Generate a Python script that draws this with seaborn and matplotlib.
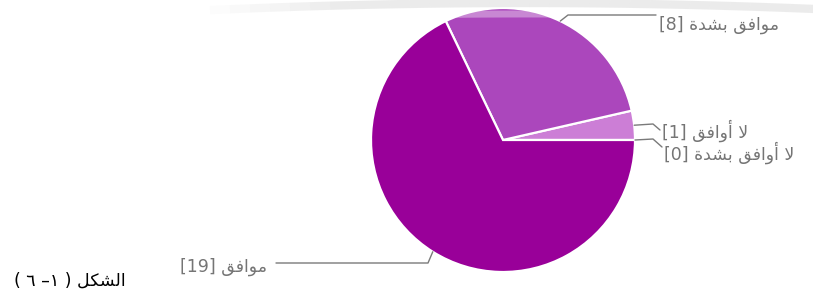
import numpy as np
import matplotlib
matplotlib.use("Agg")
import matplotlib.pyplot as plt
from matplotlib.patches import Arc
import seaborn as sns

# data
categories = ["لا أوافق بشدة", "لا أوافق", "موافق بشدة", "موافق"]
counts = [0, 1, 8, 19]
colors = ["#e1bee7", "#cc7ed6", "#ab47bc", "#990099"]
caption_word = "الشكل"
caption_num = "( ٦ –١ )"

sns.set_theme(style="white")
plt.rcParams['font.family'] = ['DejaVu Sans']

# matplotlib does no arabic shaping, so pick the joined letter forms by hand
FORMS = {
    'ا': ('\ufe8d', '\ufe8e', None, None),
    'أ': ('\ufe83', '\ufe84', None, None),
    'و': ('\ufeed', '\ufeee', None, None),
    'د': ('\ufea9', '\ufeaa', None, None),
    'ة': ('\ufe93', '\ufe94', None, None),
    'م': ('\ufee1', '\ufee2', '\ufee3', '\ufee4'),
    'ف': ('\ufed1', '\ufed2', '\ufed3', '\ufed4'),
    'ق': ('\ufed5', '\ufed6', '\ufed7', '\ufed8'),
    'ب': ('\ufe8f', '\ufe90', '\ufe91', '\ufe92'),
    'ش': ('\ufeb5', '\ufeb6', '\ufeb7', '\ufeb8'),
    'ل': ('\ufedd', '\ufede', '\ufedf', '\ufee0'),
    'ك': ('\ufed9', '\ufeda', '\ufedb', '\ufedc'),
}


def shape(txt):
    txt = txt.replace('لا', '\ufefb')
    out = []
    for i, c in enumerate(txt):
        if c not in FORMS:
            out.append(c)
            continue
        prev = txt[i - 1] if i > 0 else ''
        nxt = txt[i + 1] if i + 1 < len(txt) else ''
        jp = prev in FORMS and FORMS[prev][2] is not None
        jn = FORMS[c][2] is not None and nxt in FORMS
        if jp and jn:
            out.append(FORMS[c][3])
        elif jp:
            out.append(FORMS[c][1])
        elif jn:
            out.append(FORMS[c][2])
        else:
            out.append(FORMS[c][0])
    return ''.join(out)[::-1]


W, H = 813, 296
fig = plt.figure(figsize=(W / 100, H / 100), dpi=100)
fig.patch.set_facecolor('white')

ax = fig.add_axes([371 / W, 24 / H, 264 / W, 264 / H])
wedges, _ = ax.pie(counts, colors=colors, startangle=0, counterclock=True,
                   wedgeprops=dict(edgecolor='white', linewidth=1.6))
ax.set_xlim(-1, 1)
ax.set_ylim(-1, 1)
ax.axis('off')
ax.apply_aspect()

# overlay in pixel coords (y down)
lay = fig.add_axes([0, 0, 1, 1])
lay.set_xlim(0, W)
lay.set_ylim(H, 0)
lay.axis('off')
lay.patch.set_alpha(0)

# faint watermark arcs at the top, fading out to the left
R = 7000
cx = 525
edges = np.linspace(190, 830, 33)
for x0, x1 in zip(edges[:-1], edges[1:]):
    fade = np.clip((x0 - 190) / 140, 0, 1)
    t0 = 270 + np.rad2deg(np.arcsin((x0 - cx) / R))
    t1 = 270 + np.rad2deg(np.arcsin((x1 - cx) / R))
    lay.add_patch(Arc((cx, R + 3), 2 * R, 2 * R, theta1=t0, theta2=t1,
                      color='#d9d9d9', alpha=0.5 * fade, lw=6))
    lay.add_patch(Arc((cx, R + 14), 2 * R, 2 * R, theta1=t0, theta2=t1,
                      color='white', alpha=0.35, lw=5))


def edge_px(w):
    mid = np.deg2rad((w.theta1 + w.theta2) / 2)
    p = ax.transData.transform((np.cos(mid), np.sin(mid)))
    return lay.transData.inverted().transform(p)


# label layout: knee, line end, text anchor, alignment
layout = {
    0: ((653, 139), (662, 147), (664, 153), 'left'),
    1: ((653, 124), (660, 130), (662, 131), 'left'),
    2: ((568, 15), (656, 15), (659, 25), 'left'),
    3: ((428, 263), (276, 263), (267, 267), 'right'),
}

line_col = '#7a7a7a'
for i, w in enumerate(wedges):
    sx, sy = edge_px(w)
    knee, end, tpos, ha = layout[i]
    lay.plot([sx, knee[0], end[0]], [sy, knee[1], end[1]], color=line_col, lw=1)
    lab = f"[{counts[i]}] " + shape(categories[i])
    lay.text(tpos[0], tpos[1], lab, ha=ha, va='center', fontsize=12.5, color='#757575')

lay.text(14, 281, caption_num + " " + shape(caption_word), ha='left', va='center',
         fontsize=12.5, color='black')

fig.savefig('out.png', dpi=100, facecolor='white')
